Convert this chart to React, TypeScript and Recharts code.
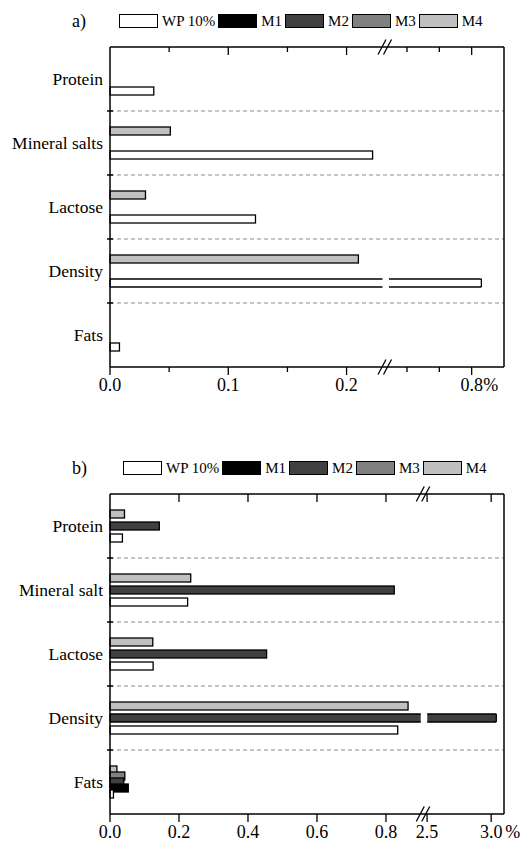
import React from "react";
import { BarChart, Bar, XAxis, YAxis, CartesianGrid, ReferenceLine } from "recharts";

const categoriesA = ["Protein", "Mineral salts", "Lactose", "Density", "Fats"];
const categoriesB = ["Protein", "Mineral salt", "Lactose", "Density", "Fats"];

// panel a)
const wpA = [0.037, 0.222, 0.123, 0.83, 0.008];
const m1A = [0, 0, 0, 0, 0];
const m2A = [0, 0, 0, 0, 0];
const m3A = [0, 0, 0, 0, 0];
const m4A = [0, 0.051, 0.03, 0.21, 0];

// panel b)
const wpB = [0.036, 0.225, 0.125, 0.834, 0.01];
const m1B = [0, 0, 0, 0, 0.053];
const m2B = [0.143, 0.824, 0.454, 3.04, 0.04];
const m3B = [0, 0, 0, 0, 0.043];
const m4B = [0.042, 0.234, 0.124, 0.864, 0.02];

const seriesKeys = ["WP", "M1", "M2", "M3", "M4"];
const seriesNames = ["WP 10%", "M1", "M2", "M3", "M4"];
const seriesFills = ["#ffffff", "#000000", "#404040", "#808080", "#c0c0c0"];

const tickValuesA = [0, 0.05, 0.1, 0.15, 0.2, 0.6, 0.7, 0.8];
const tickLabelsA = ["0.0", "", "0.1", "", "0.2", "", "", "0.8"];
const tickValuesB = [0, 0.2, 0.4, 0.6, 0.8, 2.5, 3.0];
const tickLabelsB = ["0.0", "0.2", "0.4", "0.6", "0.8", "2.5", "3.0"];

// broken axis: each segment takes a share of the axis length
type Segment = { from: number; to: number; share: number };
const segmentsA: Segment[] = [
  { from: 0, to: 0.2325, share: 0.698 },
  { from: 0.532, to: 0.9, share: 0.302 },
];
const segmentsB: Segment[] = [
  { from: 0, to: 0.908, share: 0.795 },
  { from: 2.47, to: 3.1, share: 0.205 },
];

const FONT = "'Liberation Serif', 'Times New Roman', serif";

function toAxis(v: number, segs: Segment[]) {
  let start = 0;
  for (const s of segs) {
    if (v <= s.to) return start + (s.share * Math.max(0, v - s.from)) / (s.to - s.from);
    start += s.share;
  }
  return 1;
}

function makeBarShape(key: string, brk: number) {
  return (p: any) => {
    const { x, y, width, height, fill } = p;
    const v = p.payload ? p.payload[key] : 0;
    if (!(width > 0) || !(v > 0)) return <g />;
    if (v <= brk + 1e-9) {
      return <rect x={x} y={y} width={width} height={height} fill={fill} stroke="#000" strokeWidth={1.3} />;
    }
    const bx = x + (width * brk) / v;
    const l = bx - 2.5;
    const r = bx + 4;
    const e = x + width;
    const ln = { stroke: "#000", strokeWidth: 1.3 };
    return (
      <g>
        <rect x={x} y={y} width={l - x} height={height} fill={fill} />
        <rect x={r} y={y} width={e - r} height={height} fill={fill} />
        <line x1={x} x2={l} y1={y} y2={y} {...ln} />
        <line x1={x} x2={l} y1={y + height} y2={y + height} {...ln} />
        <line x1={r} x2={e} y1={y} y2={y} {...ln} />
        <line x1={r} x2={e} y1={y + height} y2={y + height} {...ln} />
        <line x1={x} x2={x} y1={y} y2={y + height} {...ln} />
        <line x1={e} x2={e} y1={y} y2={y + height} {...ln} />
      </g>
    );
  };
}

function BreakMarks(props: any) {
  const vb = props.viewBox || {};
  const x = vb.x;
  const ys = [vb.y, vb.y + vb.height];
  return (
    <g>
      {ys.map((y: number, i: number) => (
        <g key={i}>
          <rect x={x - 3} y={y - 2} width={5.5} height={4} fill="#fff" />
          <line x1={x - 7} y1={y + 7.5} x2={x + 1} y2={y - 7.5} stroke="#000" strokeWidth={1.3} />
          <line x1={x - 1.5} y1={y + 7.5} x2={x + 6.5} y2={y - 7.5} stroke="#000" strokeWidth={1.3} />
        </g>
      ))}
    </g>
  );
}

// inward tick on the top frame line
function TopMark(props: any) {
  const vb = props.viewBox || {};
  return <line x1={vb.x} x2={vb.x} y1={vb.y} y2={vb.y + (props.major ? 8 : 5)} stroke="#000" strokeWidth={1.3} />;
}

function PanelLegend({ tag, tagWidth }: { tag: string; tagWidth: number }) {
  return (
    <div
      style={{
        position: "absolute",
        left: 72,
        top: 14,
        display: "flex",
        alignItems: "center",
        fontFamily: FONT,
        fontSize: 15,
        color: "#000",
        zIndex: 1,
        whiteSpace: "nowrap",
      }}
    >
      <span style={{ width: tagWidth, fontSize: 18, lineHeight: "14px" }}>{tag}</span>
      {seriesNames.map((n, i) => (
        <React.Fragment key={n}>
          <span
            style={{
              width: 39,
              height: 14,
              boxSizing: "border-box",
              border: "1.5px solid #000",
              background: seriesFills[i],
            }}
          />
          <span style={{ marginLeft: 4, marginRight: 3, lineHeight: "14px" }}>{n}</span>
        </React.Fragment>
      ))}
    </div>
  );
}

type PanelProps = {
  tag: string;
  tagWidth: number;
  top: number;
  height: number;
  marginBottom: number;
  bottomAxisHeight: number;
  categories: string[];
  values: number[][];
  segments: Segment[];
  tickValues: number[];
  tickLabels: string[];
  suffixGap: number;
};

function Panel(props: PanelProps) {
  const { tag, tagWidth, top, height, marginBottom, bottomAxisHeight, categories, values, segments, tickValues, tickLabels, suffixGap } = props;
  const rows = categories.map((name, i) => {
    const row: any = { name };
    seriesKeys.forEach((k, s) => {
      row[k] = toAxis(values[s][i], segments);
    });
    return row;
  });
  const ticks = tickValues.map((v) => toAxis(v, segments));
  const brk = segments[0].share;
  const findTick = (v: number) => ticks.findIndex((t) => Math.abs(t - v) < 1e-6);

  const BottomTick = (p: any) => {
    const i = findTick(p.payload.value);
    const label = i >= 0 ? tickLabels[i] : "";
    const last = i === ticks.length - 1;
    return (
      <g>
        <line x1={p.x} x2={p.x} y1={p.y} y2={p.y + (label ? 8 : 5)} stroke="#000" strokeWidth={1.3} />
        {label && (
          <text x={p.x} y={p.y + 24} textAnchor="middle" fontFamily={FONT} fontSize={18} fill="#000">
            {label}
          </text>
        )}
        {last && (
          <text x={p.x + suffixGap} y={p.y + 24} textAnchor="start" fontFamily={FONT} fontSize={18} fill="#000">
            %
          </text>
        )}
      </g>
    );
  };

  const order = [4, 3, 2, 1, 0];

  return (
    <div style={{ position: "absolute", left: 0, top, width: 523, height }}>
      <PanelLegend tag={tag} tagWidth={tagWidth} />
      <BarChart
        width={523}
        height={height}
        data={rows}
        layout="vertical"
        margin={{ top: 46, right: 19, bottom: marginBottom, left: 0 }}
        barSize={8}
        barGap={-2}
      >
        <CartesianGrid
          vertical={false}
          horizontalCoordinatesGenerator={({ offset }: any) =>
            [1, 2, 3, 4].map((k) => offset.top + (k * offset.height) / categories.length)
          }
          horizontal={(p: any) => (
            <g key={`h-${p.y1}`}>
              <line x1={p.x1} x2={p.x2} y1={p.y1} y2={p.y2} stroke="#8a8a8a" strokeDasharray="4 3" />
              <line x1={p.x1 - 3} x2={p.x1 + 3} y1={p.y1} y2={p.y1} stroke="#000" strokeWidth={1.5} />
            </g>
          )}
        />
        <XAxis
          type="number"
          domain={[0, 1]}
          ticks={ticks}
          interval={0}
          height={bottomAxisHeight}
          tickLine={false}
          tickSize={0}
          tickMargin={0}
          axisLine={{ stroke: "#000", strokeWidth: 1.5 }}
          tick={<BottomTick />}
        />
        <XAxis
          xAxisId="top"
          orientation="top"
          type="number"
          domain={[0, 1]}
          height={1}
          tickLine={false}
          tick={false}
          axisLine={{ stroke: "#000", strokeWidth: 1.5 }}
        />
        <YAxis
          type="category"
          dataKey="name"
          width={110}
          interval={0}
          tickLine={false}
          tickSize={0}
          tickMargin={7}
          axisLine={{ stroke: "#000", strokeWidth: 1.5 }}
          tick={{ fill: "#000", fontSize: 17.5, fontFamily: FONT }}
        />
        {order.map((s) => (
          <Bar
            key={seriesKeys[s]}
            dataKey={seriesKeys[s]}
            name={seriesNames[s]}
            fill={seriesFills[s]}
            isAnimationActive={false}
            shape={makeBarShape(seriesKeys[s], brk)}
          />
        ))}
        {ticks.map((t, i) =>
          t > 0 ? (
            <ReferenceLine key={`tm-${i}`} x={t} stroke="none" label={<TopMark major={tickLabels[i] !== ""} />} />
          ) : null
        )}
        <ReferenceLine x={1} stroke="#000" strokeWidth={1.5} />
        <ReferenceLine x={brk} stroke="none" label={<BreakMarks />} />
      </BarChart>
    </div>
  );
}

export default function App() {
  return (
    <div style={{ position: "absolute", left: 0, top: 0, width: 523, height: 843, background: "#fff" }}>
      <Panel
        tag="a)"
        tagWidth={47}
        top={0}
        height={400}
        marginBottom={3}
        bottomAxisHeight={30}
        categories={categoriesA}
        values={[wpA, m1A, m2A, m3A, m4A]}
        segments={segmentsA}
        tickValues={tickValuesA}
        tickLabels={tickLabelsA}
        suffixGap={11.5}
      />
      <Panel
        tag="b)"
        tagWidth={51}
        top={447}
        height={396}
        marginBottom={0}
        bottomAxisHeight={29}
        categories={categoriesB}
        values={[wpB, m1B, m2B, m3B, m4B]}
        segments={segmentsB}
        tickValues={tickValuesB}
        tickLabels={tickLabelsB}
        suffixGap={14}
      />
    </div>
  );
}
